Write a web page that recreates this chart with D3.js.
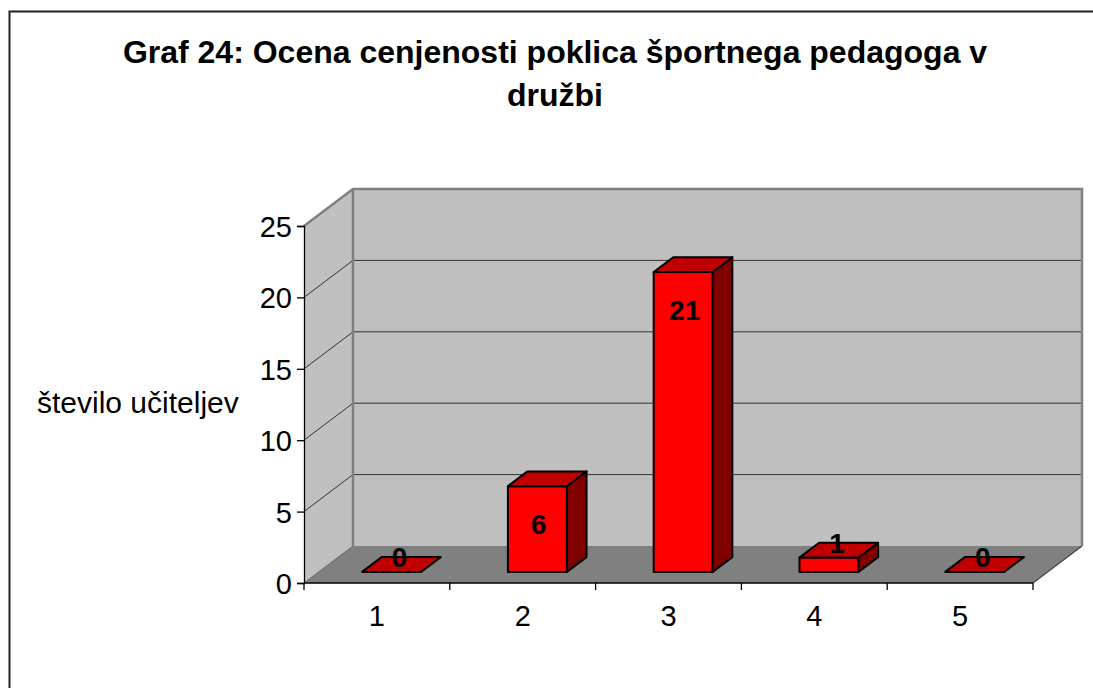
<!DOCTYPE html>
<html><head><meta charset="utf-8">
<script src="https://cdn.jsdelivr.net/npm/d3@7"></script>
<style>body{margin:0;background:#fff}svg{display:block;font-family:"Liberation Sans",Arial,sans-serif}</style>
</head><body><svg id="c" width="1093" height="688"></svg>
<script>
const categories = ["1","2","3","4","5"];
const values = [0, 6, 21, 1, 0];
const yTicks = [0, 5, 10, 15, 20, 25];
const titleLines = ["Graf 24: Ocena cenjenosti poklica športnega pedagoga v", "družbi"];
const yTitle = "število učiteljev";

const svg = d3.select("#c");
const x0 = 304, x1 = 1033, yBase = 583, yTop = 226;
const DX = 49, DY = -37;          // depth offset of back wall
const bd0 = 0.3, bd1 = 0.7;       // bar depth range (fraction)
const x = d3.scaleBand().domain(categories).range([x0, x1]).paddingInner(0).paddingOuter(0);
const y = d3.scaleLinear().domain([0, 25]).range([yBase, yTop]);
const P = (px, py, t) => [px + DX * t, py + DY * t];
const line = d3.line();

// frame
svg.append("path").attr("d", "M9.5,688 V11.5 H1093").attr("fill", "none").attr("stroke", "#222").attr("stroke-width", 2);

// title
svg.append("g").selectAll("text").data(titleLines).join("text")
  .attr("x", 555).attr("y", (d, i) => 63 + i * 43).attr("text-anchor", "middle")
  .attr("font-size", 32).attr("font-weight", "bold").text(d => d);

// walls
const wall = "#c0c0c0", edge = "#808080";
svg.append("path").attr("d", line([P(x0, y(0), 0), P(x0, y(25), 0), P(x0, y(25), 1), P(x0, y(0), 1)]) + "Z").attr("fill", wall);
svg.append("path").attr("d", line([P(x0, y(0), 1), P(x0, y(25), 1), P(x1, y(25), 1), P(x1, y(0), 1)]) + "Z").attr("fill", wall);
svg.append("path").attr("d", line([P(x0, y(0), 0), P(x1, y(0), 0), P(x1, y(0), 1), P(x0, y(0), 1)]) + "Z").attr("fill", "#808080");

// gridlines
const gt = yTicks.filter(v => v > 0 && v < 25);
svg.append("g").selectAll("path").data(gt).join("path")
  .attr("d", v => line([P(x0, y(v), 0), P(x0, y(v), 1), P(x1, y(v), 1)]))
  .attr("fill", "none").attr("stroke", "#333").attr("stroke-width", 1);

// wall edges
svg.append("path").attr("d", line([P(x0, y(25), 0), P(x0, y(25), 1), P(x1, y(25), 1), P(x1, y(0), 1)]))
  .attr("fill", "none").attr("stroke", edge).attr("stroke-width", 2.5);
svg.append("path").attr("d", line([P(x0, y(0), 1), P(x0, y(25), 1)]))
  .attr("fill", "none").attr("stroke", edge).attr("stroke-width", 2.5);
svg.append("path").attr("d", line([P(x1, y(0), 0), P(x1, y(0), 1)]))
  .attr("fill", "none").attr("stroke", "#444").attr("stroke-width", 1.2);
svg.append("path").attr("d", line([P(x0, y(0), 0), P(x0, y(0), 1)]))
  .attr("fill", "none").attr("stroke", "#666").attr("stroke-width", 1);

// bars
const bw = x.bandwidth() * 0.405;
const bars = svg.append("g");
categories.forEach((c, i) => {
  const v = values[i];
  const cx = x(c) + x.bandwidth() / 2;
  const l = cx - bw / 2, r = cx + bw / 2;
  const yb = y(0), yt = y(v);
  const fl = P(l, yt, bd0), fr = P(r, yt, bd0), bl = P(l, yt, bd1), br = P(r, yt, bd1);
  const flb = P(l, yb, bd0), frb = P(r, yb, bd0), brb = P(r, yb, bd1);
  const g = bars.append("g").attr("stroke", "#000").attr("stroke-width", 2).attr("stroke-linejoin", "round");
  if (v > 0) {
    g.append("path").attr("d", line([flb, fl, fr, frb]) + "Z").attr("fill", "#ff0000");
    g.append("path").attr("d", line([frb, fr, br, brb]) + "Z").attr("fill", "#800000");
  }
  g.append("path").attr("d", line([fl, fr, br, bl]) + "Z").attr("fill", "#c00000");
  const inside = v >= 5;
  const lx = (fl[0] + fr[0]) / 2 + (inside ? 1.5 : 8);
  const ly = inside ? fl[1] + 48 : fl[1] - 5;
  bars.append("text").attr("x", lx).attr("y", ly).attr("text-anchor", "middle")
    .attr("font-size", 28).attr("font-weight", "bold").text(v);
});

// axes
const yAxis = svg.append("g").attr("transform", `translate(${x0},0)`)
  .call(d3.axisLeft(y).tickValues(yTicks).tickSize(7).tickPadding(5));
const xAxis = svg.append("g").attr("transform", `translate(0,${yBase})`)
  .call(d3.axisBottom(x).tickSize(0).tickPadding(20));
[yAxis, xAxis].forEach(a => {
  a.select(".domain").attr("stroke", "#000").attr("stroke-width", 1.3);
  a.selectAll("line").attr("stroke", "#000").attr("stroke-width", 1.3);
  a.selectAll("text").attr("font-size", 29).attr("font-family", "Liberation Sans, Arial, sans-serif").attr("fill", "#000");
});
yAxis.selectAll(".tick text").attr("dy", "0.36em");
xAxis.select(".domain").attr("d", `M${x0},0H${x1}`);
xAxis.selectAll(".tick text").attr("dy", 0).attr("y", 43);
// category boundary ticks
const bounds = categories.map(c => x(c)).concat([x1]);
xAxis.append("g").selectAll("line").data(bounds).join("line")
  .attr("x1", d => d).attr("x2", d => d).attr("y1", 0).attr("y2", 7)
  .attr("stroke", "#000").attr("stroke-width", 1.3);

// y title
svg.append("text").attr("x", 37).attr("y", 413).attr("font-size", 30).text(yTitle);
</script></body></html>
